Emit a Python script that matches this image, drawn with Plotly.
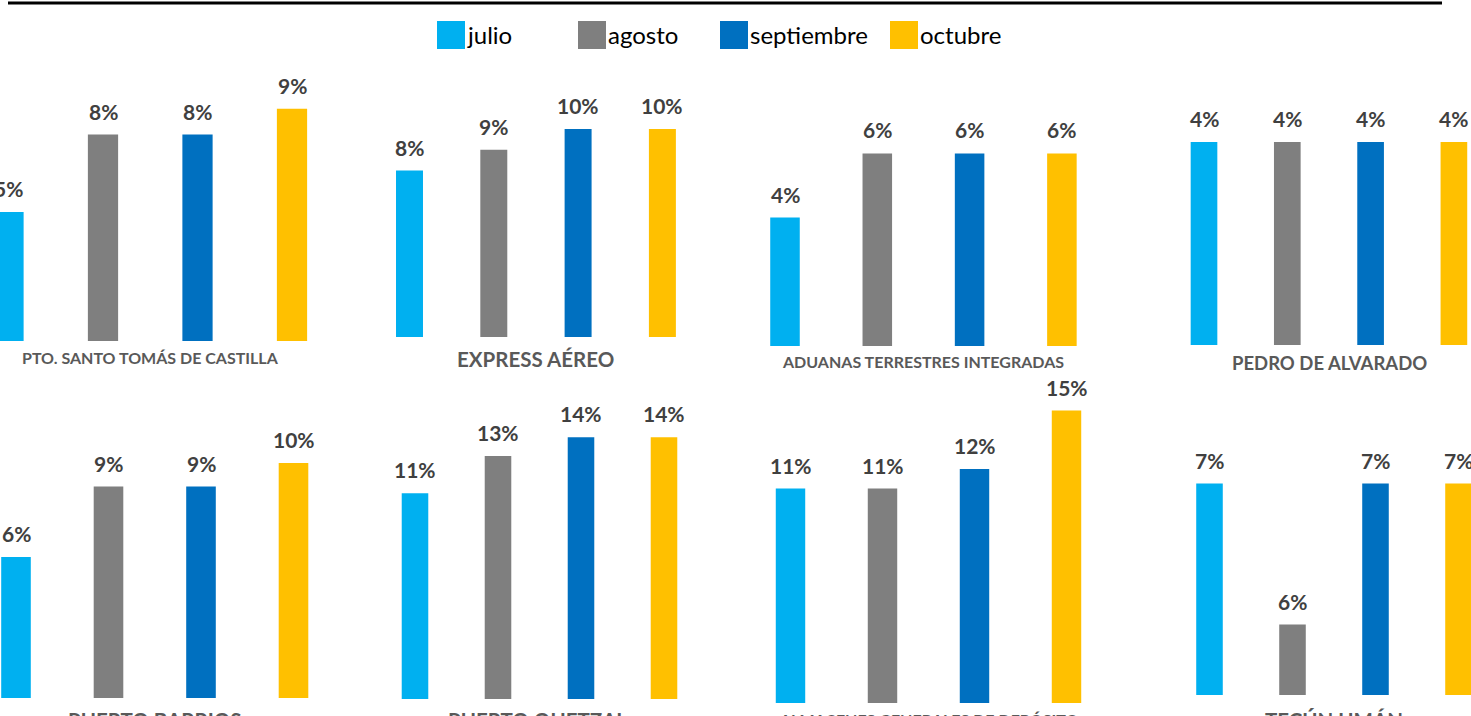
import plotly.graph_objects as go

W, H = 1471, 716

months = ["julio", "agosto", "septiembre", "octubre"]
colors = ["#00B0F0", "#7F7F7F", "#0070C0", "#FFC000"]

names = [
    "PTO. SANTO TOMÁS DE CASTILLA", "EXPRESS AÉREO",
    "ADUANAS TERRESTRES INTEGRADAS", "PEDRO DE ALVARADO",
    "PUERTO BARRIOS", "PUERTO QUETZAL",
    "ALMACENES GENERALES DE DEPÓSITO", "TECÚN UMÁN",
]

santo_tomas = [0.05, 0.08, 0.08, 0.09]
express_aereo = [0.08, 0.09, 0.10, 0.10]
aduanas = [0.04, 0.06, 0.06, 0.06]
pedro_alvarado = [0.04, 0.04, 0.04, 0.04]
puerto_barrios = [0.06, 0.09, 0.09, 0.10]
puerto_quetzal = [0.11, 0.13, 0.14, 0.14]
almacenes = [0.11, 0.11, 0.12, 0.15]
tecun_uman = [0.07, 0.06, 0.07, 0.07]
series = [santo_tomas, express_aereo, aduanas, pedro_alvarado,
          puerto_barrios, puerto_quetzal, almacenes, tecun_uman]

# layout geometry in pixels (style only)
# dx0, dx1, first bar centre, spacing, top px, baseline px, px per unit, y min
geom = [
    (0, 345, 8.5, 94.5, 60, 341, 2580, 0.0),
    (360, 725, 409.5, 84.3, 60, 337, 2080, 0.0),
    (740, 1115, 785, 92.3, 60, 346, 3210, 0.0),
    (1150, 1471, 1204, 83.3, 60, 345, 5075, 0.0),
    (0, 345, 16, 92.5, 375, 698, 2350, 0.0),
    (360, 725, 415, 83.0, 375, 699, 1870, 0.0),
    (740, 1115, 790.5, 92.0, 375, 703, 1950, 0.0),
    (1150, 1471, 1209.5, 83.0, 375, 695, 14100, 0.055),
]
# title positions: centre x px, top y px, font size
title_pos = [
    (150, 346, 16), (535, 345, 20.5), (923, 350, 16), (1329, 350, 18.5),
    (155, 706, 20.5), (537, 706, 20.5), (928, 708, 16), (1334, 706, 20.5),
]

fig = go.Figure()
layout = dict(
    width=W, height=H, margin=dict(l=0, r=0, t=0, b=0),
    paper_bgcolor="white", plot_bgcolor="white",
    bargap=0.68, showlegend=False,
    font=dict(family="Lato, 'Open Sans', sans-serif"),
)
annotations = []
shapes = []

for i, (vals, g) in enumerate(zip(series, geom)):
    dx0, dx1, c0, sp, top, base, k, ymin = g
    xa = "x" if i == 0 else f"x{i+1}"
    ya = "y" if i == 0 else f"y{i+1}"
    fig.add_trace(go.Bar(
        x=months, y=vals, xaxis=xa, yaxis=ya,
        marker=dict(color=colors, line=dict(width=0)),
        hoverinfo="skip",
    ))
    # data labels placed above each bar through the subplot axes
    for m, v in zip(months, vals):
        annotations.append(dict(
            text=f"<b>{v:.0%}</b>", x=m, y=v, xref=xa, yref=ya,
            xanchor="center", yanchor="bottom", yshift=9, showarrow=False,
            font=dict(family="Lato", size=21, color="#404040"),
        ))
    xkey = "xaxis" if i == 0 else f"xaxis{i+1}"
    ykey = "yaxis" if i == 0 else f"yaxis{i+1}"
    layout[xkey] = dict(
        domain=[dx0 / W, dx1 / W], anchor=ya, type="category",
        range=[(dx0 - c0) / sp, (dx1 - c0) / sp],
        showticklabels=False, showgrid=False, zeroline=False, showline=False,
        categoryorder="array", categoryarray=months,
    )
    layout[ykey] = dict(
        domain=[1 - base / H, 1 - top / H], anchor=xa,
        range=[ymin, ymin + (base - top) / k],
        showticklabels=False, showgrid=False, zeroline=False, showline=False,
    )
    cx, ty, fs = title_pos[i]
    annotations.append(dict(
        text=f"<b>{names[i]}</b>", x=cx / W, y=1 - ty / H,
        xref="paper", yref="paper", xanchor="center", yanchor="top",
        showarrow=False, font=dict(family="Lato", size=fs, color="#595959"),
    ))

# manual legend
leg_sq = [437, 578, 720, 890]
for m, c, lx in zip(months, colors, leg_sq):
    shapes.append(dict(type="rect", xref="paper", yref="paper",
                       x0=lx / W, x1=(lx + 28) / W, y0=1 - 49 / H, y1=1 - 21 / H,
                       fillcolor=c, line=dict(width=0)))
    annotations.append(dict(text=m, x=(lx + 28) / W, y=1 - 35 / H,
                            xref="paper", yref="paper", xanchor="left",
                            yanchor="middle", showarrow=False,
                            font=dict(family="Lato", size=24, color="#000000")))

# title underline (title itself is cropped above)
shapes.append(dict(type="line", xref="paper", yref="paper",
                   x0=8 / W, x1=1442 / W, y0=1 - 3 / H, y1=1 - 3 / H,
                   line=dict(color="black", width=3)))

layout["annotations"] = annotations
layout["shapes"] = shapes
fig.update_layout(**layout)
fig.write_html("out.html", config={"displayModeBar": False},
               post_script="document.body.style.margin='0';document.body.style.overflow='hidden';")
